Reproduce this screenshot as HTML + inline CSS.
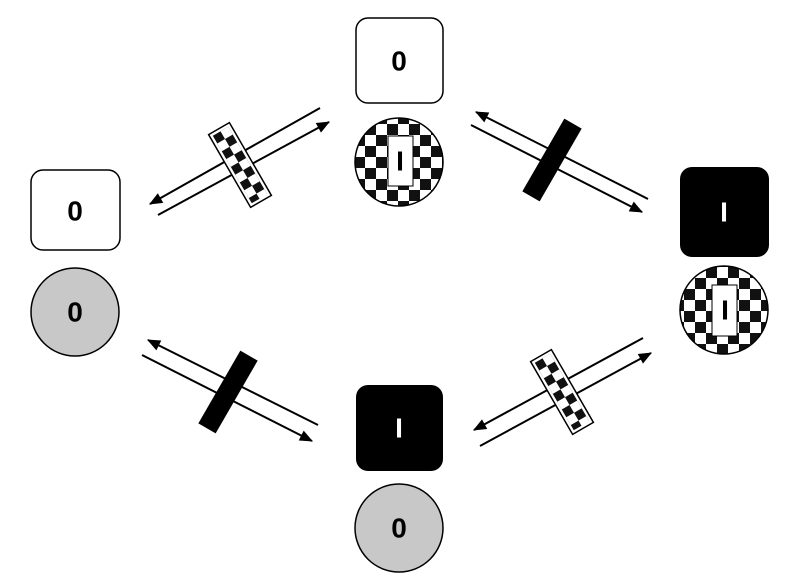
<!DOCTYPE html>
<html><head><meta charset="utf-8"><style>
html,body{margin:0;padding:0;background:#fff;}
svg{display:block;}
text{font-family:"Liberation Sans",sans-serif;font-size:28px;font-weight:bold;text-anchor:middle;dominant-baseline:central;}
</style></head><body>
<svg width="800" height="581" viewBox="0 0 800 581">
<defs>
<pattern id="chk" width="22" height="22" patternUnits="userSpaceOnUse" x="2" y="3">
<rect width="22" height="22" fill="#fff"/><rect width="11" height="11" fill="#111"/><rect x="11" y="11" width="11" height="11" fill="#111"/>
</pattern>
<pattern id="chk2" width="18" height="18" patternUnits="userSpaceOnUse" x="-9" y="-39">
<rect width="18" height="18" fill="#fff"/><rect width="9" height="9" fill="#111"/><rect x="9" y="9" width="9" height="9" fill="#111"/>
</pattern>
<marker id="arr" viewBox="0 0 12 10" refX="11" refY="5" markerWidth="14" markerHeight="11" orient="auto" markerUnits="userSpaceOnUse">
<path d="M0,0 L12,5 L0,10 Z" fill="#000"/>
</marker>
</defs>

<g>
<rect x="356" y="18" width="87" height="85" rx="12" fill="#fff" stroke="#000" stroke-width="1.5"/>
<text x="399" y="61">0</text>
<g>
<circle cx="399" cy="162" r="44" fill="url(#chk)" stroke="#000" stroke-width="1.5"/>
<rect x="388" y="136" width="25" height="50" fill="#fff" stroke="#000" stroke-width="1"/>
<text x="400" y="161">I</text>
</g>
</g>

<g>
<rect x="31" y="170" width="89" height="80" rx="12" fill="#fff" stroke="#000" stroke-width="1.5"/>
<text x="75" y="211">0</text>
<circle cx="75" cy="312" r="44" fill="#c8c8c8" stroke="#000" stroke-width="1.5"/>
<text x="75" y="312">0</text>
</g>

<g>
<rect x="680" y="167" width="89" height="90" rx="12" fill="#000"/>
<text x="724" y="212" fill="#fff">I</text>
<g>
<circle cx="724" cy="310" r="44" fill="url(#chk)" stroke="#000" stroke-width="1.5"/>
<rect x="712" y="285" width="25" height="51" fill="#fff" stroke="#000" stroke-width="1"/>
<text x="725" y="310">I</text>
</g>
</g>

<g>
<rect x="356" y="385" width="87" height="86" rx="12" fill="#000"/>
<text x="399" y="428" fill="#fff">I</text>
<circle cx="399" cy="528" r="44" fill="#c8c8c8" stroke="#000" stroke-width="1.5"/>
<text x="399" y="528">0</text>
</g>

<g stroke="#000" stroke-width="2" fill="none">
<line x1="320" y1="108" x2="150" y2="204" marker-end="url(#arr)"/>
<line x1="158" y1="215" x2="329" y2="122" marker-end="url(#arr)"/>
<line x1="648" y1="199" x2="476" y2="112" marker-end="url(#arr)"/>
<line x1="471" y1="125" x2="642" y2="212" marker-end="url(#arr)"/>
<line x1="318" y1="425" x2="148" y2="340" marker-end="url(#arr)"/>
<line x1="142" y1="355" x2="312" y2="441" marker-end="url(#arr)"/>
<line x1="643" y1="338" x2="474" y2="430" marker-end="url(#arr)"/>
<line x1="480" y1="446" x2="651" y2="353" marker-end="url(#arr)"/>
</g>

<g transform="translate(240,165) rotate(-30)">
<rect x="-12" y="-42" width="24" height="84" fill="#fff" stroke="#000" stroke-width="1.5"/>
<rect x="-9" y="-39" width="18" height="78" fill="url(#chk2)"/>
</g>
<g transform="translate(562,392) rotate(-30)">
<rect x="-12" y="-42" width="24" height="84" fill="#fff" stroke="#000" stroke-width="1.5"/>
<rect x="-9" y="-39" width="18" height="78" fill="url(#chk2)"/>
</g>
<rect x="-10" y="-42" width="20" height="84" fill="#000" transform="translate(552,160) rotate(30)"/>
<rect x="-10" y="-42" width="20" height="84" fill="#000" transform="translate(228,392) rotate(30)"/>
</svg>
</body></html>
